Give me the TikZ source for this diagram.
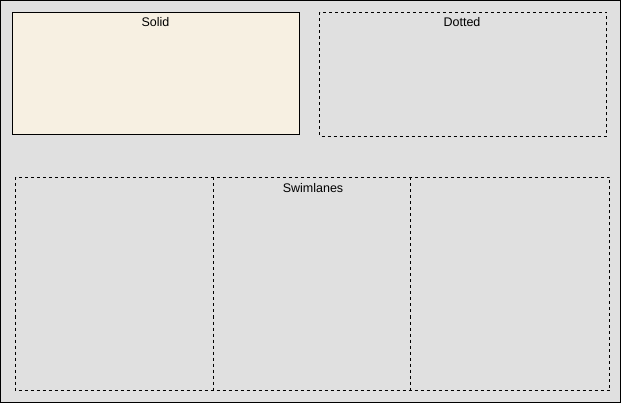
\documentclass[tikz,border=0pt]{standalone}
\usepackage{fontspec}
\setmainfont{Liberation Sans}
\definecolor{bggray}{RGB}{224,224,224}
\definecolor{beige}{RGB}{247,240,226}
\tikzset{
  dashbox/.style={draw=black, line width=0.8pt, dash pattern=on 3pt off 3pt},
  solidbox/.style={draw=black, line width=1pt, fill=beige},
  lbl/.style={font=\fontsize{12.5}{13}\selectfont, inner sep=0pt, anchor=center}
}
\begin{document}
\begin{tikzpicture}[x=1pt,y=-1pt]
\fill[bggray] (0,0) rectangle (621,403);
\draw[line width=1pt] (0.5,0.5) rectangle (620.5,402.5);
\useasboundingbox (0,0) rectangle (621,403);
% Solid
\draw[solidbox] (12.5,12.5) rectangle (299.5,134.5);
\node[lbl] (solid) at (155.5,22.5) {Solid};
% Dotted
\draw[dashbox] (319.5,12.5) rectangle (606.5,136.5);
\node[lbl] (dotted) at (462,22.5) {Dotted};
% Swimlanes
\draw[dashbox] (15.5,177.5) rectangle (609.5,390.5);
\draw[dashbox] (213.5,177.5) -- (213.5,390.5);
\draw[dashbox] (410.5,177.5) -- (410.5,390.5);
\node[lbl] (swim) at (313,188.5) {Swimlanes};
\end{tikzpicture}
\end{document}
